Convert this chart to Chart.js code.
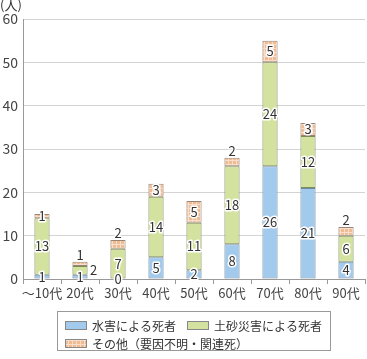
<!DOCTYPE html>
<html>
<head>
<meta charset="utf-8">
<script src="https://cdn.jsdelivr.net/npm/chart.js@4.4.1/dist/chart.umd.min.js"></script>
<style>
  html, body { margin: 0; padding: 0; background: #fff; }
</style>
</head>
<body>
<canvas id="deaths_chart" width="367" height="359"></canvas>
<script>
// data
var ageGroups = ["〜10代", "20代", "30代", "40代", "50代", "60代", "70代", "80代", "90代"];
var floodDeaths = [1, 1, 0, 5, 2, 8, 26, 21, 4];
var landslideDeaths = [13, 2, 7, 14, 11, 18, 24, 12, 6];
var otherDeaths = [1, 1, 2, 3, 5, 2, 5, 3, 2];
var seriesNames = ["水害による死者", "土砂災害による死者", "その他（要因不明・関連死）"];
var yTicks = [0, 10, 20, 30, 40, 50, 60];

Chart.defaults.font.family = "'Noto Sans CJK JP', 'Noto Sans', sans-serif";

var ctx = document.getElementById("deaths_chart");
var g = ctx.getContext("2d");

// checkered peach fill for "other"
function checkPattern() {
  var p = document.createElement("canvas");
  p.width = 4;
  p.height = 4;
  var pc = p.getContext("2d");
  pc.fillStyle = "#eebb93";
  pc.fillRect(0, 0, 4, 4);
  pc.fillStyle = "#f9dfcb";
  pc.fillRect(0, 0, 4, 1);
  pc.fillRect(0, 0, 1, 4);
  return g.createPattern(p, "repeat");
}

// labels that sit outside their segment
var labelPlacement = { "2-1": "above", "1-1": "right", "2-2": "above", "2-5": "above", "2-8": "above" };

var valueLabels = {
  id: "valueLabels",
  afterDatasetsDraw: function (chart) {
    var c = chart.ctx;
    c.save();
    c.font = "13px 'Noto Sans CJK JP'";
    c.textAlign = "center";
    c.textBaseline = "middle";
    c.lineJoin = "round";
    c.lineWidth = 3;
    c.strokeStyle = "#fff";
    c.fillStyle = "#333";
    chart.data.datasets.forEach(function (ds, di) {
      chart.getDatasetMeta(di).data.forEach(function (el, i) {
        var x = el.x, y = (el.y + el.base) / 2;
        var where = labelPlacement[di + "-" + i];
        if (where === "above") y = el.y - 7;
        if (where === "right") x = el.x + el.width / 2 + 6;
        var t = String(ds.data[i]);
        c.strokeText(t, x, y);
        c.fillText(t, x, y);
      });
    });
    c.restore();
  }
};

var unitAndLegend = {
  id: "unitAndLegend",
  afterDraw: function (chart) {
    var c = chart.ctx;
    c.save();
    c.fillStyle = "#333";
    c.font = "13px 'Noto Sans CJK JP'";
    c.textBaseline = "middle";
    c.fillText("(人)", 0, 5);

    c.strokeStyle = "#999";
    c.lineWidth = 1;
    c.strokeRect(57.5, 311.5, 273, 39);

    var spots = [[65, 321], [187, 321], [65, 339]];
    c.font = "12px 'Noto Sans CJK JP'";
    chart.data.datasets.forEach(function (ds, di) {
      var s = spots[di];
      c.fillStyle = ds.backgroundColor;
      c.fillRect(s[0], s[1], 22, 9);
      c.strokeStyle = "#888";
      c.strokeRect(s[0] + 0.5, s[1] + 0.5, 21, 8);
      c.fillStyle = "#333";
      c.fillText(ds.label, s[0] + 27, s[1] + 5);
    });
    c.restore();
  }
};

var myChart = new Chart(ctx, {
  type: "bar",
  plugins: [valueLabels, unitAndLegend],
  data: {
    labels: ageGroups,
    datasets: [{
      label: seriesNames[0],
      data: floodDeaths,
      backgroundColor: "#a2caec",
      borderColor: "#6f8aa0",
      borderWidth: 1,
      borderSkipped: false
    }, {
      label: seriesNames[1],
      data: landslideDeaths,
      backgroundColor: "#d3e39f",
      borderColor: "#7d8a5c",
      borderWidth: 1,
      borderSkipped: false
    }, {
      label: seriesNames[2],
      data: otherDeaths,
      backgroundColor: checkPattern(),
      borderColor: "#998575",
      borderWidth: 1,
      borderSkipped: false
    }]
  },
  options: {
    responsive: false,
    devicePixelRatio: 1,
    animation: false,
    barPercentage: 0.4,
    categoryPercentage: 1.0,
    layout: { padding: { top: 19, right: 2, left: 0, bottom: 58 } },
    plugins: {
      legend: { display: false },
      tooltip: { enabled: false }
    },
    scales: {
      x: {
        stacked: true,
        offset: true,
        grid: { drawOnChartArea: false, drawTicks: true, tickLength: 5, color: "#999", offset: true },
        border: { color: "#999" },
        ticks: { color: "#444", font: { size: 13 }, padding: 1, maxRotation: 0, autoSkip: false },
        afterFit: function (s) { s.height = 22; }
      },
      y: {
        stacked: true,
        min: 0,
        max: 60,
        afterBuildTicks: function (s) {
          s.ticks = yTicks.map(function (v) { return { value: v }; });
        },
        grid: { color: "#d4d4d4", drawTicks: false },
        border: { color: "#999" },
        ticks: { color: "#444", font: { size: 14 }, padding: 5 },
        afterFit: function (s) { s.width = 23; }
      }
    }
  }
});
</script>
</body>
</html>
